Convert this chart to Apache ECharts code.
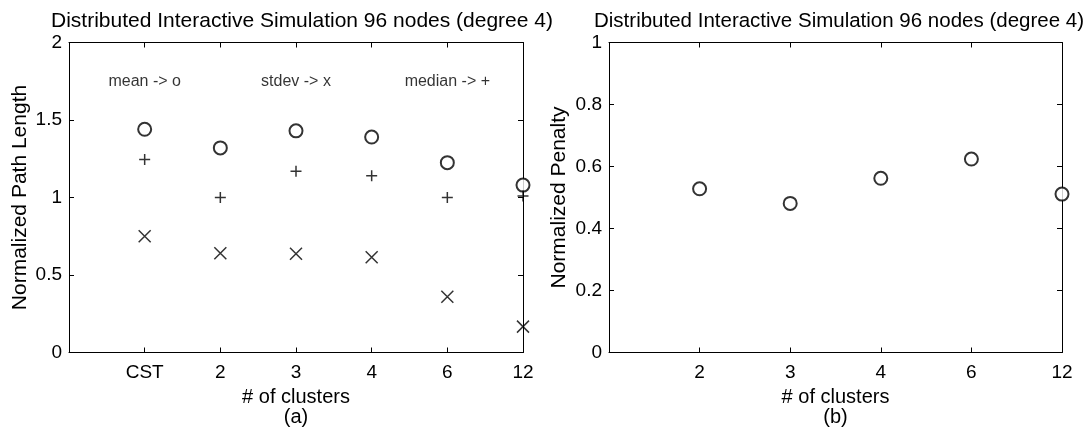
<!DOCTYPE html>
<html>
<head>
<meta charset="utf-8">
<script src="https://cdn.jsdelivr.net/npm/echarts@6/dist/echarts.min.js"></script>
<style>
  html, body { margin: 0; padding: 0; background: #fff; }
  #chart { width: 1090px; height: 433px; }
</style>
</head>
<body>
<div id="chart"></div>
<script>
// panel (a): path length vs # of clusters
var clustersA = ['CST', '2', '3', '4', '6', '12'];
var meanA   = [1.44, 1.32, 1.43, 1.39, 1.225, 1.08];
var stdevA  = [0.75, 0.64, 0.637, 0.614, 0.36, 0.167];
var medianA = [1.245, 1.0, 1.17, 1.14, 1.0, 1.01];
var notesA  = ['mean -> o', 'stdev -> x', 'median -> +'];
var notesX  = [1, 3, 5];
var notesY  = 1.75;

// panel (b): penalty vs # of clusters
var clustersB = ['2', '3', '4', '6', '12'];
var penaltyB  = [0.528, 0.481, 0.562, 0.624, 0.511];

var titleText = 'Distributed Interactive Simulation 96 nodes (degree 4)';
var FONT = 'Liberation Sans, Arial, Helvetica, sans-serif';

var PLUS  = 'path://M0,5L10,5M5,0L5,10';
var CROSS = 'path://M0,0L10,10M0,10L10,0';

function pts(vals) {
  var out = [];
  for (var i = 0; i < vals.length; i++) out.push([i + 1, vals[i]]);
  return out;
}

function xAx(grid, cats, pos, showLabel, name) {
  return {
    type: 'value', gridIndex: grid, position: pos,
    min: 0, max: cats.length, interval: 1,
    splitLine: { show: false },
    axisLine: { show: true, onZero: false, lineStyle: { color: '#000', width: 1 } },
    axisTick: { show: true, inside: true, length: 5, lineStyle: { color: '#000' },
      customValues: cats.map(function (c, i) { return i + 1; }) },
    axisLabel: { show: showLabel, color: '#000', fontSize: 19, fontFamily: FONT, margin: 11,
      customValues: cats.map(function (c, i) { return i + 1; }),
      formatter: function (v) { return cats[Math.round(v) - 1] || ''; } },
    name: name || '', nameLocation: 'middle', nameGap: 32,
    nameTextStyle: { color: '#000', fontSize: 20, fontFamily: FONT, lineHeight: 20 }
  };
}

function yAx(grid, max, step, pos, showLabel, name, gap) {
  return {
    type: 'value', gridIndex: grid, position: pos,
    min: 0, max: max, interval: step,
    splitLine: { show: false },
    axisLine: { show: true, onZero: false, lineStyle: { color: '#000', width: 1 } },
    axisTick: { show: true, inside: true, length: 5, lineStyle: { color: '#000' } },
    axisLabel: { show: showLabel, color: '#000', fontSize: 19, fontFamily: FONT, margin: 7 },
    name: name || '', nameLocation: 'middle', nameGap: gap || 30,
    nameTextStyle: { color: '#000', fontSize: 21, fontFamily: FONT }
  };
}

var chart = echarts.init(document.getElementById('chart'), null, { renderer: 'canvas' });

var option = {
  backgroundColor: '#fff',
  animation: false,
  title: [
    { text: titleText, left: 297, top: 6, textAlign: 'center',
      textStyle: { color: '#000', fontSize: 21, fontWeight: 'normal', fontFamily: FONT } },
    { text: titleText, left: 834, top: 6, textAlign: 'center',
      textStyle: { color: '#000', fontSize: 20.5, fontWeight: 'normal', fontFamily: FONT } }
  ],
  grid: [
    { left: 69, right: 567, top: 42.5, bottom: 80.5 },
    { left: 609, right: 28, top: 42.5, bottom: 80.5 }
  ],
  xAxis: [
    xAx(0, clustersA, 'bottom', true, '# of clusters\n(a)'),
    xAx(0, clustersA, 'top', false),
    xAx(1, clustersB, 'bottom', true, '# of clusters\n(b)'),
    xAx(1, clustersB, 'top', false)
  ],
  yAxis: [
    yAx(0, 2, 0.5, 'left', true, 'Normalized Path Length', 38),
    yAx(0, 2, 0.5, 'right', false),
    yAx(1, 1, 0.2, 'left', true, 'Normalized Penalty', 39),
    yAx(1, 1, 0.2, 'right', false)
  ],
  series: [
    { name: 'mean', type: 'scatter', xAxisIndex: 0, yAxisIndex: 0, clip: false,
      symbol: 'emptyCircle', symbolSize: 13, data: pts(meanA),
      itemStyle: { color: '#000', borderColor: '#000', borderWidth: 1.5 } },
    { name: 'stdev', type: 'scatter', xAxisIndex: 0, yAxisIndex: 0, clip: false,
      symbol: CROSS, symbolSize: 12, data: pts(stdevA),
      itemStyle: { color: 'none', borderColor: '#000', borderWidth: 1.5 } },
    { name: 'median', type: 'scatter', xAxisIndex: 0, yAxisIndex: 0, clip: false,
      symbol: PLUS, symbolSize: 11, data: pts(medianA),
      itemStyle: { color: 'none', borderColor: '#000', borderWidth: 1.5 } },
    { name: 'notes', type: 'scatter', xAxisIndex: 0, yAxisIndex: 0, clip: false,
      symbolSize: 0, silent: true,
      data: notesA.map(function (t, i) { return { value: [notesX[i], notesY], name: t }; }),
      label: { show: true, position: 'inside', color: '#000', fontSize: 16, fontFamily: FONT,
        formatter: function (p) { return p.name; } } },
    { name: 'penalty', type: 'scatter', xAxisIndex: 2, yAxisIndex: 2, clip: false,
      symbol: 'emptyCircle', symbolSize: 13, data: pts(penaltyB),
      itemStyle: { color: '#000', borderColor: '#000', borderWidth: 1.5 } }
  ]
};

chart.setOption(option);
</script>
</body>
</html>
